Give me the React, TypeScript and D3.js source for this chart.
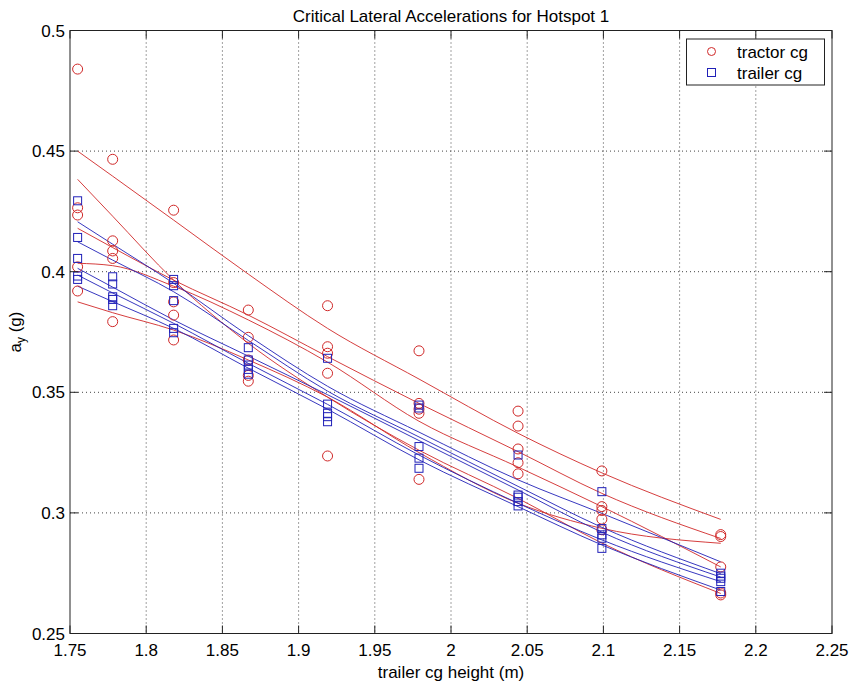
import React from "react";
import * as d3 from "d3";

// Trailer cg heights (m) at which the critical accelerations were evaluated
const heights = [1.755, 1.778, 1.818, 1.867, 1.919, 1.979, 2.044, 2.099, 2.177];

// Tractor cg critical lateral accelerations (g), one row per height
const tractorPoints = [
  [0.484, 0.4265, 0.4235, 0.402, 0.392],
  [0.4466, 0.4128, 0.4086, 0.4055, 0.3793],
  [0.4255, 0.3955, 0.3875, 0.382, 0.3717],
  [0.3841, 0.3728, 0.3634, 0.357, 0.3546],
  [0.3859, 0.3689, 0.3662, 0.3579, 0.3236],
  [0.3672, 0.3454, 0.343, 0.3413, 0.3139],
  [0.3422, 0.336, 0.3265, 0.3208, 0.3162],
  [0.3174, 0.3026, 0.301, 0.2974, 0.293],
  [0.291, 0.2902, 0.2776, 0.2668, 0.266],
];

// Trailer cg critical lateral accelerations (g), one row per height
const trailerPoints = [
  [0.4294, 0.4142, 0.4055, 0.3982, 0.3968],
  [0.3979, 0.3949, 0.3896, 0.3885, 0.3859],
  [0.3968, 0.3942, 0.388, 0.3765, 0.3747],
  [0.3685, 0.3634, 0.3613, 0.3595, 0.3575],
  [0.3641, 0.3451, 0.3413, 0.3399, 0.3378],
  [0.3447, 0.3435, 0.3275, 0.3227, 0.3185],
  [0.324, 0.3074, 0.3065, 0.3047, 0.3029],
  [0.3088, 0.2935, 0.2909, 0.2895, 0.2853],
  [0.275, 0.2738, 0.2729, 0.2715, 0.2674],
];

// Fitted curves, sampled at each height
const tractorFits = [
  [0.45, 0.4396, 0.4214, 0.399, 0.3765, 0.3555, 0.333, 0.3166, 0.2973],
  [0.4383, 0.423, 0.3965, 0.3703, 0.348, 0.326, 0.306, 0.2875, 0.2666],
  [0.418, 0.41, 0.3965, 0.382, 0.3648, 0.3454, 0.3254, 0.3081, 0.2894],
  [0.4035, 0.4025, 0.394, 0.38, 0.3625, 0.338, 0.319, 0.3026, 0.2776],
  [0.3875, 0.383, 0.3758, 0.3634, 0.348, 0.325, 0.304, 0.2936, 0.2874],
];

const trailerFits = [
  [0.4207, 0.4114, 0.3952, 0.3735, 0.3525, 0.3335, 0.3137, 0.2998, 0.2797],
  [0.4124, 0.4048, 0.3917, 0.3715, 0.3505, 0.3315, 0.311, 0.294, 0.2748],
  [0.4014, 0.3936, 0.38, 0.365, 0.349, 0.33, 0.3095, 0.292, 0.2734],
  [0.3986, 0.3912, 0.3786, 0.362, 0.345, 0.324, 0.304, 0.2888, 0.2715],
  [0.394, 0.3876, 0.3765, 0.36, 0.343, 0.322, 0.3026, 0.2867, 0.268],
];

const xTicks = [1.75, 1.8, 1.85, 1.9, 1.95, 2, 2.05, 2.1, 2.15, 2.2, 2.25];
const yTicks = [0.25, 0.3, 0.35, 0.4, 0.45, 0.5];

const legendLabels = ["tractor cg", "trailer cg"];

const W = 854;
const H = 687;
const FONT = "'Liberation Sans', Arial, Helvetica, sans-serif";
const RED = "#d02828";
const BLUE = "#2020b8";

export default function App() {
  const x = d3.scaleLinear().domain([1.75, 2.25]).range([70, 832]);
  const y = d3.scaleLinear().domain([0.25, 0.5]).range([633.5, 30.5]);
  const [x0, x1] = x.range();
  const [y0, y1] = y.range();
  const tick = 8;

  const line = d3
    .line<number>()
    .x((_, i) => x(heights[i]))
    .y((d) => y(d))
    .curve(d3.curveMonotoneX);

  const circleR = 5;
  const sq = 8;

  return (
    <svg
      width={W}
      height={H}
      style={{ position: "absolute", left: 0, top: 0, background: "#fff" }}
      fontFamily={FONT}
    >
      <rect x={0} y={0} width={W} height={H} fill="#fff" />

      {/* grid */}
      {xTicks.slice(1, -1).map((t) => (
        <line
          key={"gx" + t}
          x1={x(t)}
          x2={x(t)}
          y1={y1}
          y2={y0}
          stroke="#444"
          strokeWidth={1}
          strokeDasharray="1,3"
        />
      ))}
      {yTicks.slice(1, -1).map((t) => (
        <line
          key={"gy" + t}
          x1={x0}
          x2={x1}
          y1={y(t)}
          y2={y(t)}
          stroke="#444"
          strokeWidth={1}
          strokeDasharray="1,3"
        />
      ))}

      {/* fitted curves */}
      {tractorFits.map((f, i) => (
        <path key={"rf" + i} d={line(f) || ""} fill="none" stroke={RED} strokeWidth={0.9} />
      ))}
      {trailerFits.map((f, i) => (
        <path key={"bf" + i} d={line(f) || ""} fill="none" stroke={BLUE} strokeWidth={0.9} />
      ))}

      {/* markers */}
      {tractorPoints.map((row, i) =>
        row.map((v, j) => (
          <circle
            key={`rc${i}-${j}`}
            cx={x(heights[i])}
            cy={y(v)}
            r={circleR}
            fill="none"
            stroke={RED}
            strokeWidth={1}
          />
        ))
      )}
      {trailerPoints.map((row, i) =>
        row.map((v, j) => (
          <rect
            key={`bs${i}-${j}`}
            x={x(heights[i]) - sq / 2}
            y={y(v) - sq / 2}
            width={sq}
            height={sq}
            fill="none"
            stroke={BLUE}
            strokeWidth={1}
          />
        ))
      )}

      {/* axes box */}
      <rect x={x0} y={y1} width={x1 - x0} height={y0 - y1} fill="none" stroke="#222" strokeWidth={1} />
      {xTicks.map((t) => (
        <g key={"tx" + t}>
          <line x1={x(t)} x2={x(t)} y1={y0} y2={y0 - tick} stroke="#222" />
          <line x1={x(t)} x2={x(t)} y1={y1} y2={y1 + tick} stroke="#222" />
          <text x={x(t)} y={656} textAnchor="middle" fontSize={17} fill="#000">
            {String(t)}
          </text>
        </g>
      ))}
      {yTicks.map((t) => (
        <g key={"ty" + t}>
          <line x1={x0} x2={x0 + tick} y1={y(t)} y2={y(t)} stroke="#222" />
          <line x1={x1} x2={x1 - tick} y1={y(t)} y2={y(t)} stroke="#222" />
          <text x={65} y={y(t) + 6} textAnchor="end" fontSize={17} fill="#000">
            {String(t)}
          </text>
        </g>
      ))}

      {/* title and axis labels */}
      <text x={(x0 + x1) / 2} y={22} textAnchor="middle" fontSize={17} fill="#000">
        Critical Lateral Accelerations for Hotspot 1
      </text>
      <text x={(x0 + x1) / 2} y={678} textAnchor="middle" fontSize={17} fill="#000">
        trailer cg height (m)
      </text>
      <text
        transform={`translate(21, ${(y0 + y1) / 2}) rotate(-90)`}
        textAnchor="middle"
        fontSize={17}
        fill="#000"
      >
        a
        <tspan fontSize={12} dy={4}>
          y
        </tspan>
        <tspan dy={-4}> (g)</tspan>
      </text>

      {/* legend */}
      <g>
        <rect x={686.5} y={39} width={138} height={46} fill="#fff" stroke="#222" strokeWidth={1} />
        <circle cx={711.5} cy={51.5} r={4} fill="none" stroke={RED} strokeWidth={1} />
        <rect x={707.5} y={68.5} width={8} height={8} fill="none" stroke={BLUE} strokeWidth={1} />
        <text x={737} y={57.5} fontSize={17} fill="#000">
          {legendLabels[0]}
        </text>
        <text x={737} y={78.5} fontSize={17} fill="#000">
          {legendLabels[1]}
        </text>
      </g>
    </svg>
  );
}
